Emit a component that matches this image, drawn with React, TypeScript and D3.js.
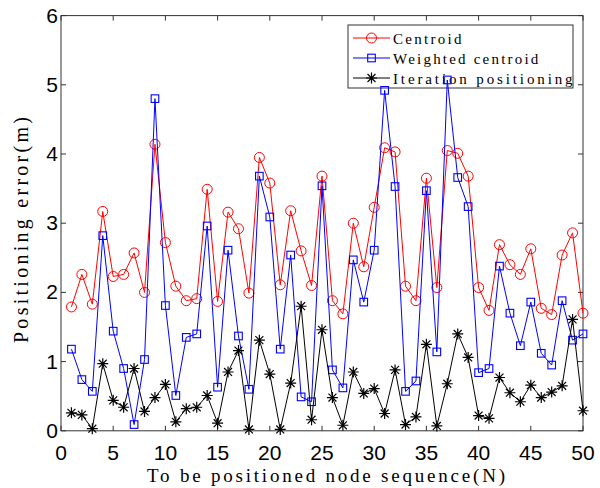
import React, { useEffect, useRef } from 'react';
import * as d3 from 'd3';

// node index 1..50
const nodes = d3.range(1, 51);

const centroid = [
  1.79, 2.26, 1.83, 3.17, 2.23, 2.26, 2.57, 2.00, 4.14, 2.72,
  2.09, 1.88, 1.91, 3.49, 1.87, 3.16, 2.92, 1.99, 3.95, 3.58,
  2.11, 3.18, 2.60, 2.10, 3.68, 1.88, 1.69, 3.00, 2.37, 3.23,
  4.09, 4.03, 2.09, 1.88, 3.65, 2.07, 4.05, 4.01, 3.68, 2.07,
  1.74, 2.69, 2.40, 2.26, 2.63, 1.77, 1.68, 2.54, 2.86, 1.70
];

const weighted = [
  1.18, 0.74, 0.57, 2.82, 1.44, 0.90, 0.09, 1.03, 4.80, 1.81,
  0.51, 1.35, 1.40, 2.96, 0.63, 2.61, 1.37, 0.60, 3.68, 3.09,
  1.18, 2.54, 0.49, 0.42, 3.54, 0.88, 0.62, 2.47, 1.86, 2.61,
  4.92, 3.53, 0.57, 0.72, 3.47, 1.14, 5.07, 3.66, 3.24, 0.84,
  0.90, 2.38, 1.70, 1.23, 1.86, 1.12, 0.95, 1.88, 1.31, 1.40
];

const iteration = [
  0.26, 0.23, 0.03, 0.97, 0.44, 0.34, 0.90, 0.28, 0.48, 0.67,
  0.13, 0.32, 0.34, 0.51, 0.11, 0.85, 1.16, 0.02, 1.31, 0.82,
  0.02, 0.69, 1.80, 0.16, 1.46, 0.48, 0.08, 0.85, 0.54, 0.61,
  0.25, 0.88, 0.09, 0.20, 1.25, 0.07, 0.68, 1.40, 1.06, 0.22,
  0.18, 0.77, 0.55, 0.42, 0.66, 0.48, 0.56, 0.65, 1.61, 0.29
];

const xTicks = [0, 5, 10, 15, 20, 25, 30, 35, 40, 45, 50];
const yTicks = [0, 1, 2, 3, 4, 5, 6];

const seriesNames = ['Centroid', 'Weighted centroid', 'Iteration positioning'];

export default function App() {
  const ref = useRef<SVGSVGElement>(null);

  useEffect(() => {
    const width = 600, height = 488;
    const margin = { top: 15.6, right: 17, bottom: 57.2, left: 61 };
    const svg = d3.select(ref.current);
    svg.selectAll('*').remove();

    const x = d3.scaleLinear().domain([0, 50]).range([margin.left, width - margin.right]);
    const y = d3.scaleLinear().domain([0, 6]).range([height - margin.bottom, margin.top]);

    svg.append('rect').attr('width', width).attr('height', height).attr('fill', '#fff');

    const axisColor = '#333';
    const tickLen = 5;

    // box
    svg.append('rect')
      .attr('x', x(0)).attr('y', y(6))
      .attr('width', x(50) - x(0)).attr('height', y(0) - y(6))
      .attr('fill', 'none').attr('stroke', axisColor).attr('stroke-width', 1);

    const ticks = svg.append('g').attr('stroke', axisColor).attr('stroke-width', 1);
    xTicks.forEach(t => {
      ticks.append('line').attr('x1', x(t)).attr('x2', x(t)).attr('y1', y(0)).attr('y2', y(0) - tickLen);
      ticks.append('line').attr('x1', x(t)).attr('x2', x(t)).attr('y1', y(6)).attr('y2', y(6) + tickLen);
    });
    yTicks.forEach(t => {
      ticks.append('line').attr('x1', x(0)).attr('x2', x(0) + tickLen).attr('y1', y(t)).attr('y2', y(t));
      ticks.append('line').attr('x1', x(50)).attr('x2', x(50) - tickLen).attr('y1', y(t)).attr('y2', y(t));
    });

    const tickFont = '"Liberation Sans", Arial, sans-serif';
    svg.append('g').selectAll('text').data(xTicks).enter().append('text')
      .attr('x', d => x(d)).attr('y', y(0) + 29)
      .attr('text-anchor', 'middle')
      .attr('font-family', tickFont).attr('font-size', 21)
      .text(d => d);
    svg.append('g').selectAll('text').data(yTicks).enter().append('text')
      .attr('x', x(0) - 3).attr('y', d => y(d) + 7)
      .attr('text-anchor', 'end')
      .attr('font-family', tickFont).attr('font-size', 21)
      .text(d => d);

    const labelFont = '"Liberation Serif", "DejaVu Serif", serif';
    const xTitle = 'To be positioned node sequence(N)';
    svg.append('text')
      .attr('x', 147).attr('y', 482)
      .attr('font-family', labelFont).attr('font-size', 19)
      .attr('textLength', 358).attr('lengthAdjust', 'spacing')
      .text(xTitle);
    svg.append('text')
      .attr('transform', `translate(28,343) rotate(-90)`)
      .attr('font-family', labelFont).attr('font-size', 20)
      .attr('textLength', 226).attr('lengthAdjust', 'spacing')
      .text('Positioning error(m)');

    const line = d3.line<number>().x((_, i) => x(nodes[i])).y(d => y(d));

    const drawCircle = (g: any, cx: number, cy: number) =>
      g.append('circle').attr('cx', cx).attr('cy', cy).attr('r', 5)
        .attr('fill', 'none').attr('stroke', '#ff0000').attr('stroke-width', 1);
    const drawSquare = (g: any, cx: number, cy: number) =>
      g.append('rect').attr('x', cx - 3.8).attr('y', cy - 3.8).attr('width', 7.6).attr('height', 7.6)
        .attr('fill', 'none').attr('stroke', '#0000ff').attr('stroke-width', 1.1);
    const drawStar = (g: any, cx: number, cy: number) => {
      const r = 5.5, d = r * 0.72;
      const p = `M${cx - r},${cy}L${cx + r},${cy}M${cx},${cy - r}L${cx},${cy + r}` +
        `M${cx - d},${cy - d}L${cx + d},${cy + d}M${cx - d},${cy + d}L${cx + d},${cy - d}`;
      g.append('path').attr('d', p).attr('stroke', '#000').attr('stroke-width', 1.2).attr('fill', 'none');
    };

    const series = [
      { data: centroid, color: '#ff0000', marker: drawCircle },
      { data: weighted, color: '#0000ff', marker: drawSquare },
      { data: iteration, color: '#000000', marker: drawStar },
    ];

    // legend (drawn under the data, as in the original)
    const lg = svg.append('g');
    lg.append('rect').attr('x', 348).attr('y', 25).attr('width', 225).attr('height', 63)
      .attr('fill', '#fff').attr('stroke', axisColor).attr('stroke-width', 1);
    series.forEach((s, i) => {
      const ly = 38 + i * 20;
      lg.append('line').attr('x1', 353).attr('x2', 390).attr('y1', ly).attr('y2', ly)
        .attr('stroke', s.color).attr('stroke-width', 1);
      s.marker(lg, 371.5, ly);
      lg.append('text').attr('x', 393).attr('y', ly + 5.5)
        .attr('font-family', labelFont).attr('font-size', 15)
        .attr('textLength', seriesNames[i].length * 8.55).attr('lengthAdjust', 'spacing')
        .text(seriesNames[i]);
    });

    series.forEach(s => {
      const g = svg.append('g');
      g.append('path').attr('d', line(s.data)).attr('fill', 'none')
        .attr('stroke', s.color).attr('stroke-width', 1);
      s.data.forEach((v, i) => s.marker(g, x(nodes[i]), y(v)));
    });
  }, []);

  return (
    <div style={{ position: 'fixed', left: 0, top: 0 }}>
      <svg ref={ref} width={600} height={488} style={{ display: 'block' }} />
    </div>
  );
}
